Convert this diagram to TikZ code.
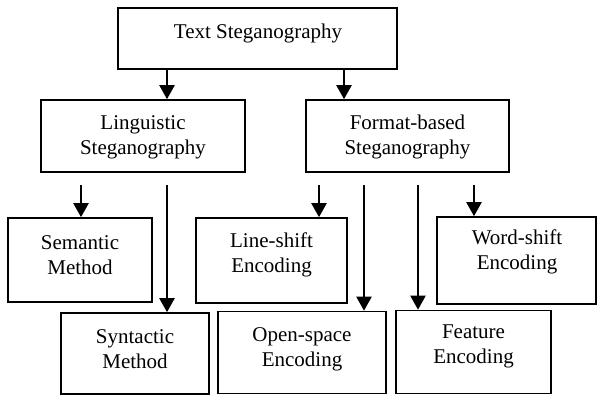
\documentclass[tikz,border=0pt]{standalone}
\usepackage{fontspec}
\setmainfont{Liberation Serif}
\usetikzlibrary{arrows.meta}
\begin{document}
\begin{tikzpicture}[x=1pt,y=-1pt,
  box/.style={draw,line width=1.6pt,rectangle,inner sep=0pt},
  txt/.style={align=center,inner sep=0pt,font=\fontsize{21}{25}\selectfont},
  arr/.style={line width=2.2pt,-{Triangle[width=15pt,length=14pt]}}]
\useasboundingbox (0,0) rectangle (598,396);
% boxes
\node[box,minimum width=279pt,minimum height=61pt] (top) at (257.5,38.5) {};
\node[box,minimum width=204pt,minimum height=72pt] (lin) at (143,136) {};
\node[box,minimum width=203pt,minimum height=72pt] (fmt) at (407.5,136) {};
\node[box,minimum width=144pt,minimum height=84pt] (sem) at (80,260) {};
\node[box,minimum width=151pt,minimum height=85pt] (lsh) at (271.5,260.5) {};
\node[box,minimum width=159pt,minimum height=87pt] (wsh) at (516.5,260.5) {};
\node[box,minimum width=148pt,minimum height=81pt] (syn) at (135,353.5) {};
\node[box,minimum width=168pt,minimum height=82pt] (osp) at (302,352.5) {};
\node[box,minimum width=155pt,minimum height=83pt] (fea) at (473.5,352) {};
% texts
\node[txt] (topt) at (258,33) {Text Steganography};
\node[txt] (lint) at (143,137) {Linguistic\\Steganography};
\node[txt] (fmtt) at (407.5,137) {Format-based\\Steganography};
\node[txt] (semt) at (80,255) {Semantic\\Method};
\node[txt] (lsht) at (271.5,255) {Line-shift\\Encoding};
\node[txt] (wsht) at (517,252) {Word-shift\\Encoding};
\node[txt] (synt) at (135,349.5) {Syntactic\\Method};
\node[txt] (ospt) at (302,349.5) {Open-space\\Encoding};
\node[txt] (feat) at (473.5,346.5) {Feature\\Encoding};
% columns and start level
\coordinate (c1) at (167,0);
\coordinate (c2) at (344,0);
\coordinate (c3) at (81,0);
\coordinate (c4) at (319,0);
\coordinate (c5) at (364,0);
\coordinate (c6) at (418,0);
\coordinate (c7) at (474,0);
\coordinate (lb) at (0,185);
% connectors
\draw[arr] (top.south -| c1) -- (lin.north -| c1);
\draw[arr] (top.south -| c2) -- (fmt.north -| c2);
\draw[arr] (c3 |- lb) -- (sem.north -| c3);
\draw[arr] (c1 |- lb) -- (syn.north -| c1);
\draw[arr] (c4 |- lb) -- (lsh.north -| c4);
\draw[arr] (c5 |- lb) -- (osp.north -| c5);
\draw[arr] (c6 |- lb) -- (fea.north -| c6);
\draw[arr] (c7 |- lb) -- (wsh.north -| c7);
\end{tikzpicture}
\end{document}
